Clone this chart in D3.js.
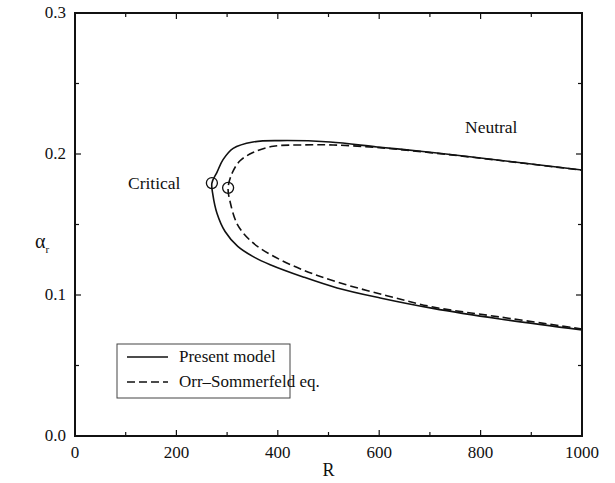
<!DOCTYPE html>
<html>
<head>
<meta charset="utf-8">
<script src="https://d3js.org/d3.v7.min.js"></script>
<style>
  body { margin: 0; background: #fff; }
</style>
</head>
<body>
<svg id="chart" width="615" height="483" font-family="'Liberation Serif', 'DejaVu Serif', serif"></svg>
<script>
// neutral curves, traced from the lower branch round the nose to the upper branch
const presentR = [1000, 838, 706, 602, 517, 450, 385, 355, 321, 296, 280, 272, 270, 280, 292, 312, 351, 404, 503, 596, 686, 779, 1000];
const presentA = [0.0752, 0.0830, 0.0905, 0.0979, 0.1050, 0.1128, 0.1215, 0.1265, 0.1345, 0.1450, 0.1580, 0.1710, 0.1794, 0.1870, 0.1960, 0.2040, 0.2085, 0.2095, 0.2085, 0.2050, 0.2018, 0.1980, 0.1887];
const orrR = [1000, 838, 706, 615, 517, 450, 389, 349, 321, 306, 302, 310, 325, 351, 391, 444, 509, 600, 700, 800, 1000];
const orrA = [0.0759, 0.0844, 0.0915, 0.0995, 0.1092, 0.1177, 0.1280, 0.1376, 0.1496, 0.1660, 0.1760, 0.1865, 0.1950, 0.2010, 0.2055, 0.2064, 0.2064, 0.2045, 0.2010, 0.1970, 0.1885];
// critical points
const criticalR = [270, 302];
const criticalA = [0.1794, 0.1760];

const xTicks = [0, 200, 400, 600, 800, 1000];
const yTicks = [0.0, 0.1, 0.2, 0.3];

const svg = d3.select("#chart");
const x = d3.scaleLinear().domain([0, 1000]).range([75, 582]);
const y = d3.scaleLinear().domain([0, 0.3]).range([436, 13]);

// inward ticks on all four sides
const minorX = d3.range(0, 1001, 100);
const minorY = d3.range(0, 0.301, 0.05);
const g = svg.append("g").attr("stroke", "#111").attr("stroke-width", 1.2);
minorX.forEach(v => {
    const len = xTicks.includes(v) ? 6 : 4;
    g.append("line").attr("x1", x(v)).attr("x2", x(v)).attr("y1", y(0)).attr("y2", y(0) - len);
    g.append("line").attr("x1", x(v)).attr("x2", x(v)).attr("y1", y(0.3)).attr("y2", y(0.3) + len);
});
minorY.forEach((v, i) => {
    const len = i % 2 == 0 ? 6 : 4;
    g.append("line").attr("y1", y(v)).attr("y2", y(v)).attr("x1", x(0)).attr("x2", x(0) + len);
    g.append("line").attr("y1", y(v)).attr("y2", y(v)).attr("x1", x(1000)).attr("x2", x(1000) - len);
});

svg.append("rect")
    .attr("x", x(0)).attr("y", y(0.3))
    .attr("width", x(1000) - x(0)).attr("height", y(0) - y(0.3))
    .attr("fill", "none").attr("stroke", "#111").attr("stroke-width", 2);

svg.selectAll("text.xt").data(xTicks).join("text")
    .attr("class", "xt")
    .attr("x", d => x(d)).attr("y", 458)
    .attr("text-anchor", "middle").attr("font-size", 17).attr("fill", "#111")
    .text(d => d);
svg.selectAll("text.yt").data(yTicks).join("text")
    .attr("class", "yt")
    .attr("x", 66).attr("y", d => y(d) + 5)
    .attr("text-anchor", "end").attr("font-size", 17).attr("fill", "#111")
    .text(d => d.toFixed(1));

svg.append("text").attr("x", x(500)).attr("y", 476)
    .attr("text-anchor", "middle").attr("font-size", 18).attr("fill", "#111").text("R");
const yl = svg.append("text").attr("x", 35).attr("y", 248).attr("font-size", 20).attr("fill", "#111");
yl.append("tspan").text("α");
yl.append("tspan").attr("font-size", 11).attr("dy", 5).text("r");

const line = d3.line().x(d => x(d[0])).y(d => y(d[1])).curve(d3.curveCatmullRom.alpha(0.5));

svg.append("path")
    .attr("d", line(d3.zip(presentR, presentA)))
    .attr("fill", "none").attr("stroke", "#111").attr("stroke-width", 1.6);
svg.append("path")
    .attr("d", line(d3.zip(orrR, orrA)))
    .attr("fill", "none").attr("stroke", "#111").attr("stroke-width", 1.6)
    .attr("stroke-dasharray", "8,4");

svg.selectAll("circle.crit").data(d3.zip(criticalR, criticalA)).join("circle")
    .attr("class", "crit")
    .attr("cx", d => x(d[0])).attr("cy", d => y(d[1])).attr("r", 5.5)
    .attr("fill", "none").attr("stroke", "#111").attr("stroke-width", 1.3);

svg.append("text").attr("x", 128).attr("y", 189).attr("font-size", 17.5).attr("fill", "#111").text("Critical");
svg.append("text").attr("x", 465).attr("y", 133).attr("font-size", 17.5).attr("fill", "#111").text("Neutral");

// legend
const lg = svg.append("g");
lg.append("rect").attr("x", 117).attr("y", 344).attr("width", 173).attr("height", 54)
    .attr("fill", "#fff").attr("stroke", "#444").attr("stroke-width", 1);
lg.append("line").attr("x1", 127).attr("x2", 168).attr("y1", 357).attr("y2", 357)
    .attr("stroke", "#111").attr("stroke-width", 1.6);
lg.append("line").attr("x1", 127).attr("x2", 168).attr("y1", 382).attr("y2", 382)
    .attr("stroke", "#111").attr("stroke-width", 1.6).attr("stroke-dasharray", "8,4");
lg.append("text").attr("x", 179).attr("y", 362).attr("font-size", 17).attr("fill", "#111").text("Present model");
lg.append("text").attr("x", 179).attr("y", 387).attr("font-size", 17).attr("fill", "#111").text("Orr–Sommerfeld eq.");
</script>
</body>
</html>
